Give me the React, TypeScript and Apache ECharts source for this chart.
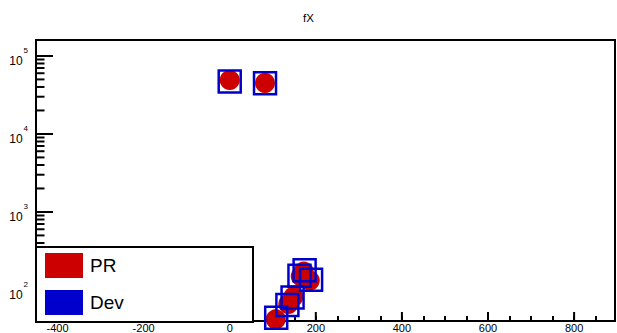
import React, { useEffect, useRef } from "react";
import * as echarts from "echarts";

const X_MIN = -450;
const X_MAX = 895;
const Y_MIN = 40;
const Y_MAX = 160000;

const prX = [0, 82, 172, 165, 186, 148, 136, 107];
const prY = [49000, 45000, 172, 150, 132, 82, 66, 42];
const devX = [0, 82, 174, 162, 189, 146, 134, 108];
const devY = [47000, 44800, 179, 152, 135, 80, 64, 44];

const xMajorTicks = [-400, -200, 0, 200, 400, 600, 800];
const yMinorTicks = [
  50, 60, 70, 80, 90,
  200, 300, 400, 500, 600, 700, 800, 900,
  2000, 3000, 4000, 5000, 6000, 7000, 8000, 9000,
  20000, 30000, 40000, 50000, 60000, 70000, 80000, 90000,
];

const FONT = "Liberation Sans, Arial, Helvetica, sans-serif";

export default function App() {
  const ref = useRef<HTMLDivElement>(null);
  useEffect(() => {
    if (!ref.current) return;
    const chart = echarts.init(ref.current, null, { renderer: "svg" });
    chart.setOption({
      animation: false,
      backgroundColor: "#fff",
      textStyle: { fontFamily: FONT },
      title: {
        text: "fX",
        left: "center",
        top: 7,
        textStyle: { fontSize: 11.5, fontWeight: "normal", color: "#000", fontFamily: FONT },
      },
      grid: {
        left: 36,
        right: 2,
        top: 40,
        bottom: 11,
        show: true,
        borderColor: "#000",
        borderWidth: 2,
        backgroundColor: "transparent",
      },
      xAxis: {
        type: "value",
        min: X_MIN,
        max: X_MAX,
        interval: 50,
        splitLine: { show: false },
        axisLine: { show: true, onZero: false, lineStyle: { color: "#000", width: 2 } },
        axisTick: { show: true, inside: true, length: 5, lineStyle: { color: "#000", width: 2 } },
        axisLabel: {
          margin: 1,
          fontSize: 11,
          color: "#000",
          fontFamily: FONT,
          showMinLabel: false,
          showMaxLabel: false,
          formatter: (v: number) => (xMajorTicks.indexOf(v) >= 0 ? String(v) : ""),
        },
      },
      yAxis: {
        type: "log",
        logBase: 10,
        min: Y_MIN,
        max: Y_MAX,
        splitLine: { show: false },
        axisLine: { show: true, onZero: false, lineStyle: { color: "#000", width: 2 } },
        axisTick: { show: true, inside: true, length: 17, lineStyle: { color: "#000", width: 2 } },
        axisLabel: {
          margin: 8,
          showMinLabel: false,
          showMaxLabel: false,
          color: "#000",
          fontFamily: FONT,
          formatter: (v: number) => "{b|10}{s|" + Math.round(Math.log10(v)) + "}",
          rich: {
            b: { fontSize: 12, padding: [10, 0, 0, 0], verticalAlign: "middle", fontFamily: FONT, color: "#000" },
            s: { fontSize: 8, padding: [0, 0, 10, 1], verticalAlign: "middle", fontFamily: FONT, color: "#000" },
          },
        },
      },
      legend: {
        show: true,
        orient: "vertical",
        left: 45,
        top: 253,
        padding: 0,
        itemWidth: 38,
        itemHeight: 25,
        itemGap: 12,
        selectedMode: false,
        z: 20,
        textStyle: { fontSize: 19, color: "#000", fontFamily: FONT, padding: [0, 0, 0, 2] },
        data: [
          { name: "PR", icon: "rect", itemStyle: { color: "#cc0000", borderWidth: 0, opacity: 1 } },
          { name: "Dev", icon: "rect", itemStyle: { color: "#0000cc", borderWidth: 0, opacity: 1 } },
        ],
      },
      graphic: [
        {
          type: "rect",
          z: 10,
          shape: { x: 36, y: 247, width: 217, height: 75 },
          style: { fill: "#fff", stroke: "#000", lineWidth: 2 },
        },
      ],
      series: [
        {
          name: "yMinorTicks",
          type: "custom",
          silent: true,
          z: 3,
          data: yMinorTicks.map((v) => [X_MIN, v]),
          renderItem: (params: any, api: any) => {
            const p = api.coord([api.value(0), api.value(1)]);
            return {
              type: "line",
              shape: { x1: p[0], y1: p[1], x2: p[0] + 8.5, y2: p[1] },
              style: { stroke: "#000", lineWidth: 2 },
            };
          },
        },
        {
          name: "xMajorTicks",
          type: "custom",
          silent: true,
          z: 3,
          data: xMajorTicks.map((v) => [v, Y_MIN]),
          renderItem: (params: any, api: any) => {
            const p = api.coord([api.value(0), api.value(1)]);
            return {
              type: "line",
              shape: { x1: p[0], y1: p[1], x2: p[0], y2: p[1] - 9 },
              style: { stroke: "#000", lineWidth: 2 },
            };
          },
        },
        {
          name: "PR",
          type: "scatter",
          symbol: "circle",
          symbolSize: 20,
          clip: false,
          z: 4,
          itemStyle: { color: "#cc0000", opacity: 1 },
          data: prX.map((x, i) => [x, prY[i]]),
        },
        {
          name: "Dev",
          type: "scatter",
          symbol: "rect",
          symbolSize: 22,
          clip: false,
          z: 5,
          itemStyle: { color: "rgba(0,0,0,0)", borderColor: "#0000cc", borderWidth: 2.5, opacity: 1 },
          data: devX.map((x, i) => [x, devY[i]]),
        },
      ],
    });
    return () => chart.dispose();
  }, []);
  return (
    <div
      ref={ref}
      style={{ position: "fixed", left: 0, top: 0, width: 617, height: 333 }}
    />
  );
}
